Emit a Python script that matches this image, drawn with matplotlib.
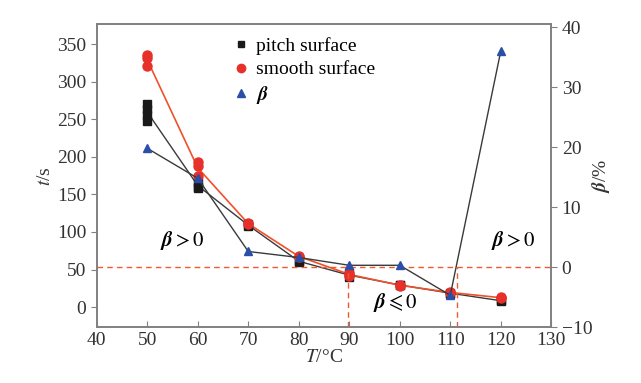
import numpy as np
import matplotlib
matplotlib.use("Agg")
import matplotlib.pyplot as plt
from matplotlib.lines import Line2D

plt.rcParams['font.family'] = ['Liberation Serif', 'DejaVu Serif']
plt.rcParams['mathtext.fontset'] = 'stix'

# temperatures (C)
temps = [50, 60, 70, 80, 90, 100, 110, 120]
# repeated time measurements (s) per temperature
pitch = [[248, 256, 264, 270], [167, 160, 158], [110, 108], [60, 62], [45, 40], [30, 29], [19, 18], [8, 9]]
smooth = [[335, 331, 321], [193, 188, 175], [112, 110], [68, 67], [45, 42], [30, 28], [20, 19], [13, 12]]
# beta (%)
beta = [19.8, 14.8, 2.6, 1.6, 0.3, 0.3, -4.7, 36.0]

fig = plt.figure(figsize=(6.41, 3.83), dpi=100)
ax = fig.add_axes([0.151, 0.146, 0.709, 0.791])
ax2 = ax.twinx()

black = '#1a1a1a'
red = '#e8302a'
blue = '#2b4ea6'
gray = '#808080'

pm = [np.mean(v) for v in pitch]
sm = [np.mean(v) for v in smooth]
ax.plot(temps, pm, color='#3a3a3a', lw=1.0, zorder=2)
ax.plot(temps, sm, color='#f0502a', lw=1.2, zorder=3)
for t, v in zip(temps, pitch):
    ax.plot([t] * len(v), v, 's', color=black, ms=5.5, zorder=4)
for t, v in zip(temps, smooth):
    ax.plot([t] * len(v), v, 'o', color=red, ms=6.5, zorder=5)

ax2.plot(temps, beta, color='#3a3a3a', lw=1.0, zorder=2)
ax2.plot(temps, beta, '^', color=blue, ms=6, zorder=6)

# reference dashed lines
ax2.axhline(0, color='#f05a30', ls='--', lw=1.0, dashes=(4, 3))
ax2.plot([89.7, 89.7], [-10, 0], color='#f05a30', ls='--', lw=1.0, dashes=(4, 3))
ax2.plot([111.3, 111.3], [-10, 0], color='#f05a30', ls='--', lw=1.0, dashes=(4, 3))

ax.set_xlim(40, 130)
ax.set_ylim(-26.6, 376.6)
ax2.set_ylim(-10, 40.5)
ax.set_xticks(range(40, 131, 10))
ax.set_yticks(range(0, 351, 50))
ax2.set_yticks(range(-10, 41, 10))

for a in (ax, ax2):
    for s in a.spines.values():
        s.set_color(gray)
        s.set_linewidth(1.2)
    a.tick_params(labelsize=14, color=gray, labelcolor='#333333', length=4)
ax.tick_params(axis='x', direction='in')
ax.tick_params(axis='y', direction='out')
ax2.tick_params(axis='y', direction='out')

ax.set_xlabel(r'$T$/°C', fontsize=14, labelpad=0, color='#333333')
ax.set_ylabel(r'$t$/s', fontsize=14, labelpad=2, color='#333333')
ax2.set_ylabel(r'$\boldsymbol{\beta}$/%', fontsize=14, labelpad=-2, color='#333333')

ax.text(57, 88, r'$\boldsymbol{\beta}>0$', fontsize=15, ha='center', va='center')
ax.text(122.5, 88, r'$\boldsymbol{\beta}>0$', fontsize=15, ha='center', va='center')
ax.text(99, 6, r'$\boldsymbol{\beta}\leqslant 0$', fontsize=15, ha='center', va='center')

# legend
handles = [Line2D([], [], ls='none', marker='s', color=black, ms=5),
           Line2D([], [], ls='none', marker='o', color=red, ms=6),
           Line2D([], [], ls='none', marker='^', color=blue, ms=6)]
ax.legend(handles, ['pitch surface', 'smooth surface', r'$\boldsymbol{\beta}$'],
          loc='upper left', bbox_to_anchor=(0.255, 1.015), frameon=False,
          fontsize=14, handletextpad=0.25, labelspacing=0.3, handlelength=1.1)

fig.savefig('out.png', dpi=100)
